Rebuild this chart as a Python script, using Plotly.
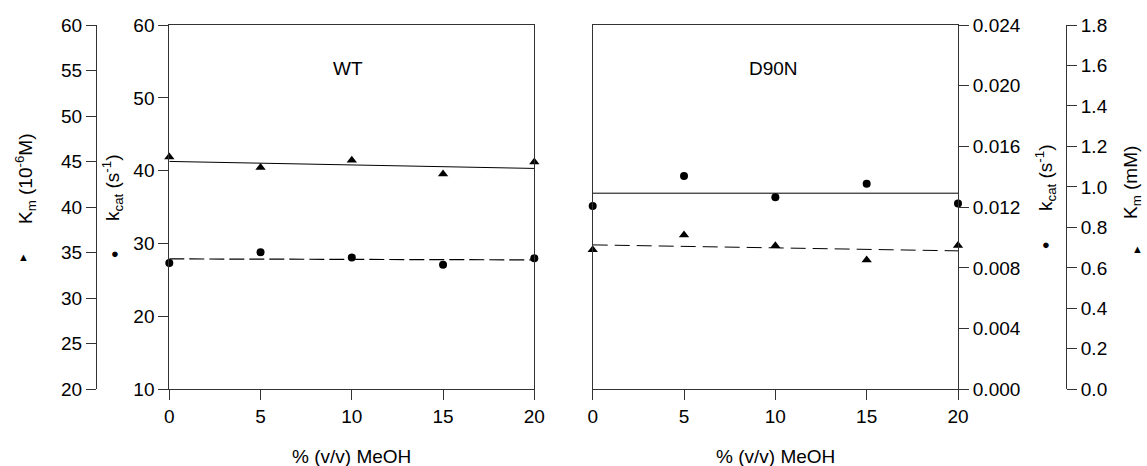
import plotly.graph_objects as go

# ---- data ----
meoh = [0, 5, 10, 15, 20]

wt_kcat = [27.35, 28.8, 28.1, 27.1, 28.0]          # s^-1, circles
wt_kcat_fit = [27.9, 27.76]                         # dashed fit at 0 and 20
wt_km = [45.5, 44.35, 45.15, 43.65, 44.95]          # 10^-6 M, triangles
wt_km_fit = [45.02, 44.25]                          # solid fit

d90n_kcat = [0.01207, 0.01406, 0.01266, 0.01354, 0.01224]   # s^-1, circles
d90n_kcat_fit = [0.01292, 0.01292]                          # solid fit
d90n_km = [0.689, 0.763, 0.709, 0.639, 0.710]               # mM, triangles
d90n_km_fit = [0.7136, 0.684]                               # dashed fit

fit_x = [0, 20]

W, H = 1147, 466
FONT = "Liberation Sans, Arial, sans-serif"
FS = 19

def px(x):
    return x / W

def py(y):
    return 1 - y / H

y_dom = [py(389.3), py(25)]
xl_dom = [px(169.3), px(534.3)]
xr_dom = [px(592.7), px(958)]

fig = go.Figure()

mk_c = dict(symbol="circle", size=8, color="black")
mk_t = dict(symbol="triangle-up", size=9, color="black")

# WT
fig.add_trace(go.Scatter(x=fit_x, y=wt_kcat_fit, mode="lines",
                         line=dict(color="black", width=1.2, dash="15px,5px"),
                         xaxis="x", yaxis="y", cliponaxis=False))
fig.add_trace(go.Scatter(x=meoh, y=wt_kcat, mode="markers", marker=mk_c,
                         xaxis="x", yaxis="y", cliponaxis=False))
fig.add_trace(go.Scatter(x=fit_x, y=wt_km_fit, mode="lines",
                         line=dict(color="black", width=1),
                         xaxis="x", yaxis="y2", cliponaxis=False))
fig.add_trace(go.Scatter(x=meoh, y=wt_km, mode="markers", marker=mk_t,
                         xaxis="x", yaxis="y2", cliponaxis=False))

# D90N
fig.add_trace(go.Scatter(x=fit_x, y=d90n_kcat_fit, mode="lines",
                         line=dict(color="black", width=1),
                         xaxis="x2", yaxis="y3", cliponaxis=False))
fig.add_trace(go.Scatter(x=meoh, y=d90n_kcat, mode="markers", marker=mk_c,
                         xaxis="x2", yaxis="y3", cliponaxis=False))
fig.add_trace(go.Scatter(x=fit_x, y=d90n_km_fit, mode="lines",
                         line=dict(color="black", width=1, dash="15px,7px"),
                         xaxis="x2", yaxis="y4", cliponaxis=False))
fig.add_trace(go.Scatter(x=meoh, y=d90n_km, mode="markers", marker=mk_t,
                         xaxis="x2", yaxis="y4", cliponaxis=False))

axis_common = dict(showline=True, linecolor="#333", linewidth=1,
                   ticks="outside", ticklen=10, tickcolor="#333", tickwidth=1,
                   showgrid=False, zeroline=False, automargin=False,
                   tickfont=dict(family=FONT, size=FS, color="black"))

fig.update_layout(
    template="none",
    width=W, height=H,
    margin=dict(l=0, r=0, t=0, b=0, pad=0),
    paper_bgcolor="white", plot_bgcolor="white",
    showlegend=False,
    font=dict(family=FONT, size=FS, color="black"),
    xaxis=dict(domain=xl_dom, range=[0, 20], tickvals=meoh, anchor="y",
               mirror=True, **axis_common),
    yaxis=dict(domain=y_dom, range=[10, 60], dtick=10, tick0=10, anchor="x",
               mirror=True, **axis_common),
    yaxis2=dict(range=[20, 60], dtick=5, tick0=20, overlaying="y",
                anchor="free", position=px(96), side="left", **axis_common),
    xaxis2=dict(domain=xr_dom, range=[0, 20], tickvals=meoh, anchor="y3",
                mirror=True, **axis_common),
    yaxis3=dict(domain=y_dom, range=[0, 0.024], dtick=0.004, tick0=0,
                tickformat=".3f", anchor="x2", side="right", mirror=True,
                **axis_common),
    yaxis4=dict(range=[0, 1.8], dtick=0.2, tick0=0, tickformat=".1f",
                overlaying="y3", anchor="free", position=px(1066),
                side="right", **axis_common),
)

def ann(x, y, text, size=FS, angle=0, xanchor="center"):
    fig.add_annotation(x=px(x), y=py(y), xref="paper", yref="paper",
                       text=text, showarrow=False, textangle=angle,
                       xanchor=xanchor, yanchor="middle",
                       font=dict(family=FONT, size=size, color="black"))

# panel labels
ann(348, 68, "WT")
ann(773, 68, "D90N")

# x titles
ann(351, 456, "% (v/v) MeOH")
ann(775, 456, "% (v/v) MeOH")

# y titles
ann(25, 179, "K<sub>m</sub> (10<sup>-6</sup>M)", angle=-90)
ann(23, 257, "▲", size=11)
ann(113, 188, "k<sub>cat</sub> (s<sup>-1</sup>)", angle=-90)
ann(115, 253, "●", size=13)

ann(1046, 178, "k<sub>cat</sub> (s<sup>-1</sup>)", angle=-90)
ann(1046, 245, "●", size=13)
ann(1132, 183, "K<sub>m</sub> (mM)", angle=-90)
ann(1137, 249, "▲", size=11)

fig.write_html(
    "out.html",
    config={"displayModeBar": False},
    post_script="document.body.style.margin='0';document.body.style.overflow='hidden';",
)
